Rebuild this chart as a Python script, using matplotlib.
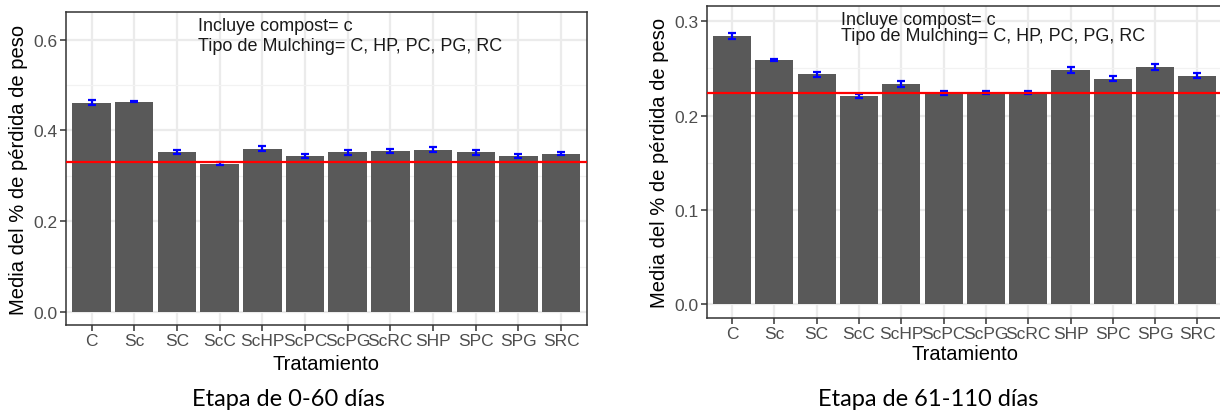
import matplotlib
matplotlib.use("Agg")
import matplotlib.pyplot as plt
import numpy as np
from matplotlib.ticker import MultipleLocator

plt.rcParams['font.family'] = ['Liberation Sans', 'DejaVu Sans']

# datos
tratamientos = ['C', 'Sc', 'SC', 'ScC', 'ScHP', 'ScPC', 'ScPG', 'ScRC', 'SHP', 'SPC', 'SPG', 'SRC']

media_0_60 = [0.461, 0.463, 0.353, 0.327, 0.360, 0.344, 0.352, 0.355, 0.358, 0.352, 0.344, 0.349]
err_0_60 = [0.005, 0.001, 0.005, 0.003, 0.005, 0.004, 0.005, 0.005, 0.005, 0.005, 0.005, 0.004]
linea_0_60 = 0.331

media_61_110 = [0.2845, 0.2587, 0.2436, 0.2209, 0.2333, 0.2237, 0.2245, 0.2245, 0.2480, 0.2393, 0.2517, 0.2425]
err_61_110 = [0.003, 0.001, 0.003, 0.002, 0.003, 0.002, 0.002, 0.002, 0.003, 0.003, 0.003, 0.003]
linea_61_110 = 0.2241

texto1 = "Incluye compost= c"
texto2 = "Tipo de Mulching= C, HP, PC, PG, RC"
ylab = "Media del % de pérdida de peso"
xlab = "Tratamiento"
captions = ["Etapa de 0-60 días", "Etapa de 61-110 días"]

fig = plt.figure(figsize=(12.2, 4.14), dpi=100)
fig.patch.set_facecolor('white')

ax1 = fig.add_axes([0.0541, 0.2126, 0.4268, 0.7553])
ax2 = fig.add_axes([0.5793, 0.2295, 0.4230, 0.7529])


def panel(ax, media, err, linea, ylim, major, minor, t1, t2, txt_x, xpad):
    x = np.arange(1, len(tratamientos) + 1)
    ax.set_axisbelow(True)
    ax.bar(x, media, width=0.9, color='#595959', zorder=2)
    ax.errorbar(x, media, yerr=err, fmt='none', ecolor='#0000ff',
                elinewidth=1.6, capsize=3.2, capthick=1.6, zorder=3)
    ax.axhline(linea, color='#ff0000', lw=1.6, zorder=4)
    ax.set_xlim(0.4, 12.6)
    ax.set_ylim(*ylim)
    ax.set_xticks(x)
    ax.set_xticklabels(tratamientos)
    ax.yaxis.set_major_locator(MultipleLocator(major))
    ax.yaxis.set_minor_locator(MultipleLocator(minor))
    ax.yaxis.set_major_formatter(plt.FormatStrFormatter('%.1f'))
    ax.grid(which='major', color='#ebebeb', lw=1.6)
    ax.grid(which='minor', axis='y', color='#f2f2f2', lw=0.9)
    ax.tick_params(which='major', length=4, width=1.1, color='#333333',
                   labelcolor='#4d4d4d', labelsize=12.5, pad=2)
    ax.tick_params(which='minor', length=0)
    for s in ax.spines.values():
        s.set_color('#333333')
        s.set_linewidth(1.1)
    ax.set_ylabel(ylab, fontsize=14.5, color='black', labelpad=4)
    ax.set_xlabel(xlab, fontsize=14.5, color='black', labelpad=xpad)
    ax.text(txt_x, t1, texto1, fontsize=13, va='center', ha='left', color='#1a1a1a', zorder=5)
    ax.text(txt_x, t2, texto2, fontsize=13, va='center', ha='left', color='#1a1a1a', zorder=5)


panel(ax1, media_0_60, err_0_60, linea_0_60, (-0.028, 0.660), 0.2, 0.1, 0.632, 0.586, 3.49, 4)
panel(ax2, media_61_110, err_61_110, linea_61_110, (-0.015, 0.316), 0.1, 0.05, 0.3015, 0.2853, 3.58, 2)

fig.text(288 / 1220, 1 - 400 / 414, captions[0], fontsize=17, family=['Lato', 'DejaVu Sans'],
         ha='center', va='center', color='black')
fig.text(928 / 1220, 1 - 400 / 414, captions[1], fontsize=17, family=['Lato', 'DejaVu Sans'],
         ha='center', va='center', color='black')

plt.savefig("out.png", dpi=100)
